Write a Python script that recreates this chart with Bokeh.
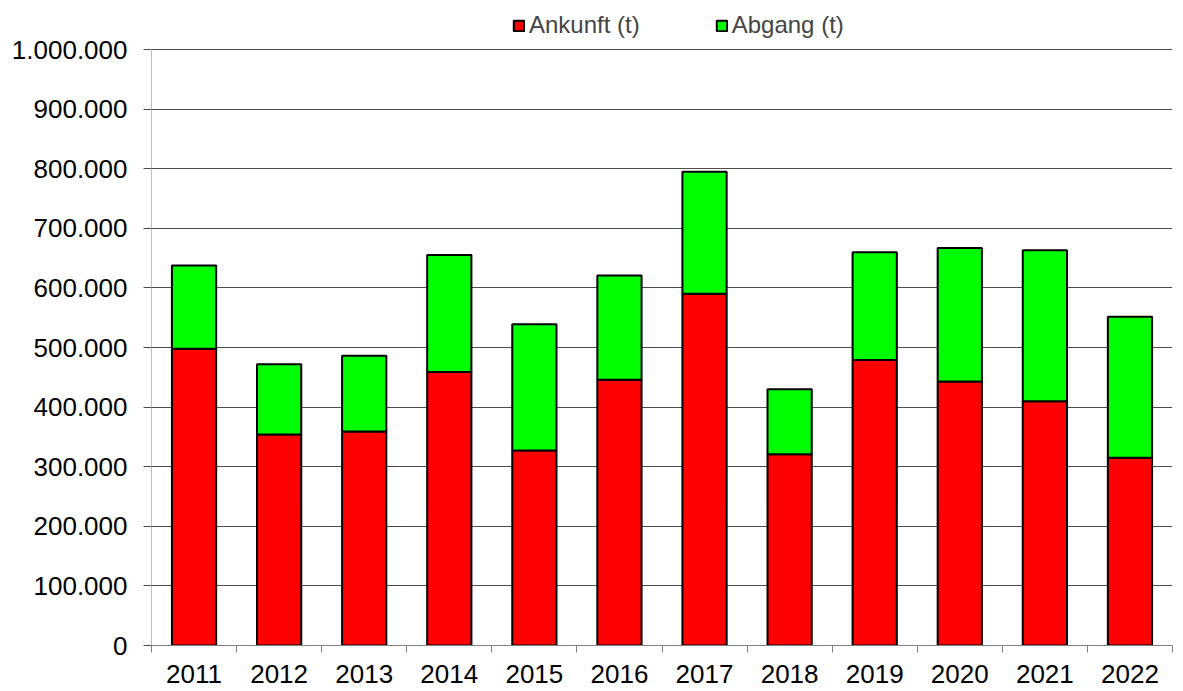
from bokeh.plotting import figure
from bokeh.models import ColumnDataSource, FixedTicker, Legend, LegendItem, Range1d
from bokeh.embed import file_html
from bokeh.resources import INLINE

years = ["2011", "2012", "2013", "2014", "2015", "2016",
         "2017", "2018", "2019", "2020", "2021", "2022"]
ankunft = [498000, 354000, 359000, 459000, 327000, 446000,
           590000, 321000, 479000, 443000, 410000, 315000]
abgang = [139600, 118000, 127000, 196000, 212000, 175000,
          205000, 109000, 181000, 224000, 253000, 236500]
series_labels = ["Ankunft (t)", "Abgang (t)"]
series_colors = ["#FF0000", "#00FF00"]
y_ticks = [0, 100000, 200000, 300000, 400000, 500000,
           600000, 700000, 800000, 900000, 1000000]
y_tick_labels = ["0", "100.000", "200.000", "300.000", "400.000", "500.000",
                 "600.000", "700.000", "800.000", "900.000", "1.000.000"]

FONT = "Liberation Sans"
AXIS_GRAY = "#808080"
GRID_GRAY = "#4d4d4d"

# layout: frame from y=5 (top) to y=645 (bottom); value axis spans 596 px
TOP, BOTTOM, LEFT, RIGHT = 5, 46, 151, 11
FRAME_H = 691 - TOP - BOTTOM
AXIS_PX = 596
y_end = y_ticks[-1] * FRAME_H / AXIS_PX

x = list(range(len(years)))
src = ColumnDataSource(dict(x=x, ankunft=ankunft, abgang=abgang))

p = figure(width=1183, height=691, output_backend="svg", toolbar_location=None,
           x_range=Range1d(-0.5, len(years) - 0.5), y_range=Range1d(0, y_end),
           min_border_left=LEFT, min_border_right=RIGHT, min_border_top=TOP,
           min_border_bottom=BOTTOM)
p.outline_line_color = None
p.background_fill_color = "white"
p.border_fill_color = "white"

# value-axis line only from 0 to the top tick
p.segment(x0=[-0.5], y0=[y_ticks[0]], x1=[-0.5], y1=[y_ticks[-1]],
          line_color=AXIS_GRAY, line_width=1)

rs = p.vbar_stack(["ankunft", "abgang"], x="x", width=0.52, source=src,
                  fill_color=series_colors, line_color="black", line_width=2)

# grid
p.xgrid.visible = False
p.ygrid.ticker = FixedTicker(ticks=y_ticks)
p.ygrid.grid_line_color = GRID_GRAY
p.ygrid.grid_line_width = 1

# y axis
ya = p.yaxis[0]
ya.ticker = FixedTicker(ticks=y_ticks)
ya.major_label_overrides = {t: l for t, l in zip(y_ticks, y_tick_labels)}
ya.major_tick_out = 8
ya.major_tick_in = 0
ya.minor_tick_out = 0
ya.minor_tick_in = 0
ya.major_tick_line_color = GRID_GRAY
ya.axis_line_color = None
ya.major_label_text_font = FONT
ya.major_label_text_font_size = "26px"
ya.major_label_text_color = "black"
ya.major_label_standoff = 16

# x axis
xa = p.xaxis[0]
xa.ticker = FixedTicker(ticks=x, minor_ticks=[i - 0.5 for i in range(len(years) + 1)])
xa.major_label_overrides = {i: yv for i, yv in zip(x, years)}
xa.major_tick_out = 0
xa.major_tick_in = 0
xa.minor_tick_out = 7
xa.minor_tick_in = 0
xa.minor_tick_line_color = AXIS_GRAY
xa.axis_line_color = AXIS_GRAY
xa.major_label_text_font = FONT
xa.major_label_text_font_size = "26px"
xa.major_label_text_color = "black"
xa.major_label_standoff = 12

legend = Legend(items=[LegendItem(label=series_labels[0], renderers=[rs[0]]),
                       LegendItem(label=series_labels[1], renderers=[rs[1]])],
                orientation="horizontal", location=(361, 606),
                label_text_font=FONT, label_text_font_size="24px",
                glyph_width=13, glyph_height=13, label_standoff=4,
                spacing=75, padding=0, margin=0,
                border_line_color=None, background_fill_alpha=0)
p.add_layout(legend, "center")

open("out.html", "w").write(file_html(p, INLINE))
